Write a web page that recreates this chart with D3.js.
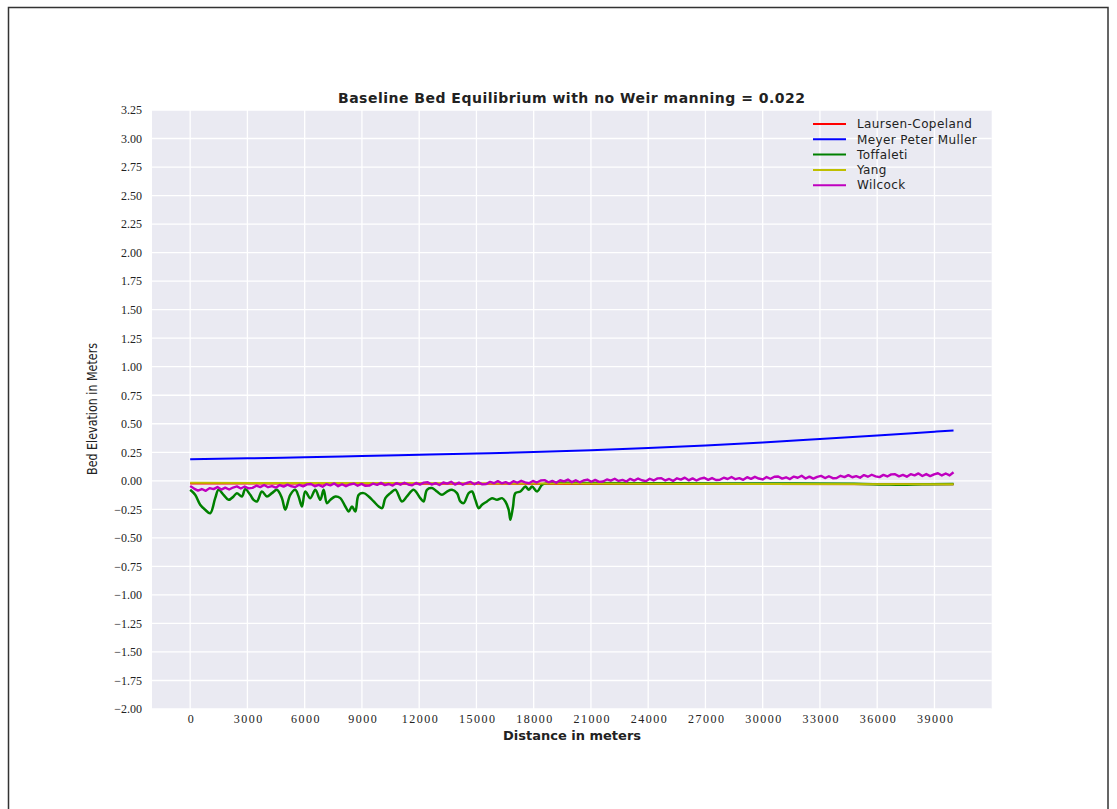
<!DOCTYPE html>
<html>
<head>
<meta charset="utf-8">
<script src="https://cdn.jsdelivr.net/npm/d3@7"></script>
<style>
  html, body { margin: 0; padding: 0; background: #ffffff; }
  svg { display: block; }
</style>
</head>
<body>
<svg id="chart" width="1117" height="809"></svg>
<script>
// ---------------- DATA ----------------
const chartTitle = "Baseline Bed Equilibrium with no Weir manning = 0.022";
const xLabel = "Distance in meters";
const yLabel = "Bed Elevation in Meters";
const seriesNames = ["Laursen-Copeland", "Meyer Peter Muller", "Toffaleti", "Yang", "Wilcock"];
const seriesColors = ["#ff0000", "#0000ff", "#008000", "#bfbf00", "#bf00bf"];
const xTicks = [0, 3000, 6000, 9000, 12000, 15000, 18000, 21000, 24000, 27000, 30000, 33000, 36000, 39000];
const yTicks = [3.25, 3.00, 2.75, 2.50, 2.25, 2.00, 1.75, 1.50, 1.25, 1.00, 0.75, 0.50, 0.25, 0.00,
                -0.25, -0.50, -0.75, -1.00, -1.25, -1.50, -1.75, -2.00];
const riverLength = 40000;

// Laursen-Copeland
const laursenDist = [0, 10000, 20000, 30000, 40000];
const laursenVal  = [-0.024, -0.025, -0.027, -0.028, -0.030];

// Meyer Peter Muller
const mpmDist = [0, 3000, 6000, 9000, 12000, 15000, 18000, 21000, 24000, 27000, 30000, 33000, 36000, 39000, 40000];
const mpmVal  = [0.188, 0.197, 0.207, 0.218, 0.229, 0.240, 0.252, 0.268, 0.287, 0.310, 0.336, 0.366, 0.397, 0.430, 0.441];

// Toffaleti
const toffDist = [0, 262, 525, 787, 1049, 1312, 1487, 1748, 2010, 2273, 2448, 2710, 2885, 3147, 3322, 3497,
  3759, 4022, 4284, 4546, 4809, 4984, 5245, 5507, 5682, 5857, 6032, 6294, 6557, 6819, 6994, 7169, 7344,
  7606, 7869, 8131, 8306, 8480, 8655, 8830, 9092, 9354, 9617, 9879, 10054, 10229, 10491, 10754, 11096,
  11359, 11707, 12057, 12232, 12407, 12669, 12932, 13194, 13456, 13719, 13981, 14156, 14331, 14593,
  14768, 14943, 15118, 15293, 15554, 15817, 16079, 16341, 16516, 16691, 16779, 16918, 17041, 17303,
  17566, 17741, 17915, 18178, 18439, 18723, 20462, 25578, 30693, 34785, 36320, 37344, 38366, 40000];
const toffVal = [-0.079, -0.123, -0.210, -0.254, -0.284, -0.152, -0.079, -0.123, -0.167, -0.137, -0.108,
  -0.137, -0.073, -0.123, -0.167, -0.181, -0.094, -0.137, -0.108, -0.079, -0.152, -0.254, -0.123, -0.079,
  -0.137, -0.225, -0.094, -0.152, -0.079, -0.167, -0.079, -0.196, -0.167, -0.137, -0.152, -0.225, -0.269,
  -0.225, -0.269, -0.123, -0.108, -0.137, -0.181, -0.225, -0.240, -0.152, -0.108, -0.079, -0.181,
  -0.137, -0.079, -0.152, -0.181, -0.079, -0.064, -0.094, -0.123, -0.094, -0.079, -0.108, -0.181,
  -0.196, -0.108, -0.094, -0.167, -0.240, -0.210, -0.181, -0.152, -0.167, -0.152, -0.181, -0.254,
  -0.342, -0.225, -0.108, -0.094, -0.050, -0.079, -0.050, -0.094, -0.035, -0.020, -0.020, -0.022,
  -0.024, -0.026, -0.032, -0.035, -0.030, -0.028];

// Yang
const yangDist = [0, 10000, 20000, 30000, 40000];
const yangVal  = [-0.018, -0.020, -0.024, -0.027, -0.030];

// Wilcock (sampled evenly along the reach)
const wilcockVal = [
  -0.045,
  -0.068, -0.086, -0.072, -0.088, -0.064, -0.073, -0.055, -0.077, -0.060, -0.076, -0.059, -0.049, -0.067, -0.050, -0.066,
  -0.062, -0.043, -0.055, -0.037, -0.056, -0.046, -0.060, -0.037, -0.051, -0.034, -0.048, -0.055, -0.035, -0.049, -0.031,
  -0.028, -0.048, -0.035, -0.052, -0.029, -0.040, -0.023, -0.047, -0.030, -0.048, -0.032, -0.024, -0.043, -0.027, -0.044,
  -0.042, -0.024, -0.035, -0.018, -0.038, -0.028, -0.042, -0.020, -0.034, -0.017, -0.032, -0.039, -0.019, -0.033, -0.016,
  -0.013, -0.033, -0.020, -0.037, -0.015, -0.025, -0.009, -0.033, -0.016, -0.034, -0.019, -0.010, -0.030, -0.013, -0.031,
  -0.028, -0.009, -0.021, -0.003, -0.022, -0.012, -0.026, -0.003, -0.017, 0.000, -0.014, -0.021, -0.001, -0.015, 0.003,
  0.006, -0.013, -0.001, -0.017, 0.005, -0.005, 0.011, -0.012, 0.005, -0.013, 0.003, 0.011, -0.008, 0.008, -0.009,
  -0.006, 0.012, 0.001, 0.018, -0.001, 0.008, -0.006, 0.017, 0.002, 0.020, 0.005, -0.003, 0.018, 0.003, 0.021,
  0.023, 0.003, 0.016, -0.001, 0.022, 0.011, 0.028, 0.004, 0.021, 0.003, 0.019, 0.027, 0.008, 0.024, 0.007,
  0.009, 0.027, 0.016, 0.033, 0.014, 0.023, 0.009, 0.032, 0.017, 0.035, 0.020, 0.012, 0.033, 0.018, 0.036,
  0.038, 0.019, 0.031, 0.015, 0.037, 0.027, 0.044, 0.020, 0.037, 0.019, 0.035, 0.043, 0.024, 0.040, 0.023,
  0.025, 0.044, 0.032, 0.050, 0.031, 0.041, 0.027, 0.050, 0.036, 0.053, 0.039, 0.032, 0.052, 0.038, 0.056,
  0.058, 0.039, 0.052, 0.036, 0.058, 0.048, 0.065, 0.042, 0.059, 0.041, 0.057, 0.066, 0.047, 0.064, 0.047,
  0.075
];
const wilcockDist = wilcockVal.map((v, i) => i * riverLength / (wilcockVal.length - 1));

// ---------------- LAYOUT ----------------
const svg = d3.select("#chart");
const plot = { left: 152, top: 110, right: 991.7, bottom: 709 };
const xMargin = riverLength * 0.05;

const x = d3.scaleLinear().domain([-xMargin, riverLength + xMargin]).range([plot.left, plot.right]);
const y = d3.scaleLinear().domain([-2.0, 3.25]).range([plot.bottom, plot.top]);

// outer frame
svg.append("rect").attr("x", 8.5).attr("y", 7.5).attr("width", 1099.5).attr("height", 900)
  .attr("fill", "none").attr("stroke", "#333").attr("stroke-width", 1.5);

// plot background
svg.append("rect").attr("x", plot.left).attr("y", plot.top)
  .attr("width", plot.right - plot.left).attr("height", plot.bottom - plot.top)
  .attr("fill", "#eaeaf2");

// grid
const grid = svg.append("g");
grid.selectAll(".gx").data(xTicks).enter().append("line")
  .attr("x1", d => x(d)).attr("x2", d => x(d)).attr("y1", plot.top).attr("y2", plot.bottom)
  .attr("stroke", "#ffffff").attr("stroke-width", 1.3);
grid.selectAll(".gy").data(yTicks).enter().append("line")
  .attr("x1", plot.left).attr("x2", plot.right).attr("y1", d => y(d)).attr("y2", d => y(d))
  .attr("stroke", "#ffffff").attr("stroke-width", 1.3);

// axes (labels only, seaborn style)
const tickFont = "'Liberation Serif', 'DejaVu Serif', serif";
const fmtY = d => (d < 0 ? "\u2212" : "") + Math.abs(d).toFixed(2);
const yAxis = svg.append("g").attr("transform", `translate(${plot.left},0)`)
  .call(d3.axisLeft(y).tickValues(yTicks).tickFormat(fmtY).tickSize(0).tickPadding(10));
const xAxis = svg.append("g").attr("transform", `translate(0,${plot.bottom})`)
  .call(d3.axisBottom(x).tickValues(xTicks).tickFormat(d3.format("d")).tickSize(0).tickPadding(5));
[xAxis, yAxis].forEach(a => {
  a.select(".domain").remove();
  a.selectAll("text").attr("font-family", tickFont).attr("font-size", 12).attr("fill", "#222");
});
xAxis.selectAll("text").attr("letter-spacing", 1.5).attr("dx", 0.75);

// lines
const zip = (a, b) => a.map((v, i) => [v, b[i]]);
const seriesData = [
  zip(laursenDist, laursenVal),
  zip(mpmDist, mpmVal),
  zip(toffDist, toffVal),
  zip(yangDist, yangVal),
  zip(wilcockDist, wilcockVal)
];
const curves = [d3.curveLinear, d3.curveMonotoneX, d3.curveCatmullRom.alpha(0.5), d3.curveLinear, d3.curveLinear];
const lineWidths = [2, 2, 2.5, 2, 2.4];
svg.append("defs").append("clipPath").attr("id", "clip")
  .append("rect").attr("x", plot.left).attr("y", plot.top)
  .attr("width", plot.right - plot.left).attr("height", plot.bottom - plot.top);
const linesG = svg.append("g").attr("clip-path", "url(#clip)");
seriesData.forEach((data, i) => {
  const gen = d3.line().x(d => x(d[0])).y(d => y(d[1])).curve(curves[i]);
  linesG.append("path").datum(data)
    .attr("fill", "none")
    .attr("stroke", seriesColors[i])
    .attr("stroke-width", lineWidths[i])
    .attr("stroke-linejoin", "round")
    .attr("d", gen);
});

// legend
const legend = svg.append("g").attr("transform", "translate(813,124)");
seriesNames.forEach((name, i) => {
  const g = legend.append("g").attr("transform", `translate(0,${i * 15.3})`);
  g.append("line").attr("x1", 0).attr("x2", 33).attr("y1", 0).attr("y2", 0)
    .attr("stroke", seriesColors[i]).attr("stroke-width", 2);
  g.append("text").attr("x", 44).attr("y", 4.2).text(name)
    .attr("font-family", "'DejaVu Sans', sans-serif").attr("font-size", 12)
    .attr("letter-spacing", 0.4).attr("fill", "#222");
});

// title and labels
svg.append("text").attr("x", 571.5).attr("y", 103).attr("text-anchor", "middle")
  .attr("font-family", "'DejaVu Sans', sans-serif").attr("font-weight", "bold")
  .attr("font-size", 14).attr("textLength", 467).attr("lengthAdjust", "spacing")
  .attr("fill", "#222").text(chartTitle);
svg.append("text").attr("x", 572).attr("y", 740).attr("text-anchor", "middle")
  .attr("font-family", "'DejaVu Sans', sans-serif").attr("font-weight", "bold")
  .attr("font-size", 13).attr("fill", "#222").text(xLabel);
svg.append("text").attr("transform", "translate(97,409) rotate(-90)").attr("text-anchor", "middle")
  .attr("font-family", "'Liberation Sans Narrow', 'DejaVu Sans Condensed', 'Roboto Condensed', sans-serif")
  .attr("font-size", 14).attr("textLength", 132).attr("lengthAdjust", "spacingAndGlyphs")
  .attr("fill", "#222").text(yLabel);
</script>
</body>
</html>
